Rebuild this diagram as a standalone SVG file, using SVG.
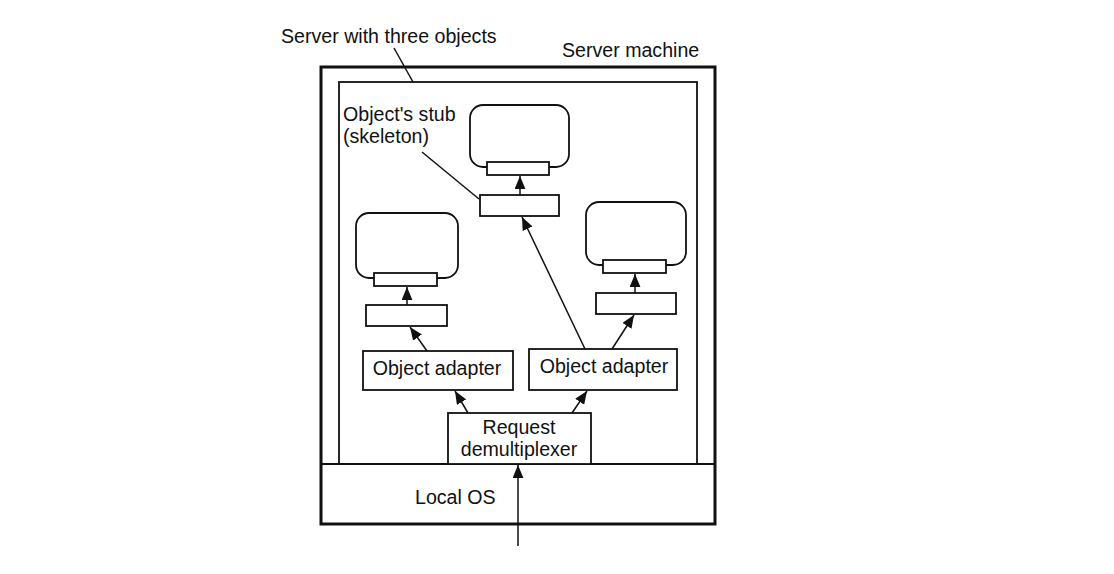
<svg xmlns="http://www.w3.org/2000/svg" width="1114" height="574" viewBox="0 0 1114 574">
<style>
.t{font-family:"Liberation Sans",Arial,sans-serif;font-size:19.6px;fill:#111}
.b{fill:#fff;stroke:#111;stroke-width:1.8}
.l{stroke:#111;stroke-width:1.5;fill:none}
.a{stroke:#111;stroke-width:1.5;fill:none;marker-end:url(#ah)}
</style>
<defs>
<marker id="ah" viewBox="0 0 12 10" refX="12" refY="5" markerWidth="13" markerHeight="11" markerUnits="userSpaceOnUse" orient="auto">
<path d="M0,0 L12,5 L0,10 z" fill="#111"/>
</marker>
</defs>
<rect width="1114" height="574" fill="#fff"/>
<g id="server-machine">
<rect x="321" y="67" width="394" height="457" fill="none" stroke="#111" stroke-width="3"/>
<line x1="321" y1="464" x2="715" y2="464" stroke="#111" stroke-width="2"/>
<text class="t" x="562" y="57">Server machine</text>
<text class="t" x="415" y="504">Local OS</text>
</g>
<g id="server-objects">
<rect x="339" y="82" width="358" height="382" fill="none" stroke="#111" stroke-width="1.8"/>
<text class="t" x="281" y="43">Server with three objects</text>
</g>
<g id="object-top">
<rect class="b" x="470" y="105" width="99" height="62" rx="13"/>
<rect class="b" x="487" y="162" width="62" height="13"/>
<rect class="b" x="480" y="195" width="79" height="21"/>
</g>
<g id="object-left">
<rect class="b" x="356" y="213" width="102" height="65" rx="13"/>
<rect class="b" x="374" y="273" width="63" height="13"/>
<rect class="b" x="366" y="305" width="81" height="21"/>
</g>
<g id="object-right">
<rect class="b" x="586" y="202" width="100" height="63" rx="13"/>
<rect class="b" x="603" y="260" width="63" height="13"/>
<rect class="b" x="596" y="293" width="80" height="21"/>
</g>
<g id="adapter-left">
<rect class="b" x="363" y="351" width="150" height="39"/>
<text class="t" x="437" y="375" text-anchor="middle">Object adapter</text>
</g>
<g id="adapter-right">
<rect class="b" x="529" y="349" width="148" height="41"/>
<text class="t" x="604" y="373" text-anchor="middle">Object adapter</text>
</g>
<g id="demux">
<rect class="b" x="448" y="413" width="143" height="51"/>
<text class="t" x="519" y="434" text-anchor="middle">Request</text>
<text class="t" x="519" y="456" text-anchor="middle">demultiplexer</text>
</g>
<g id="stub-label">
<text class="t" x="343" y="121">Object's stub</text>
<text class="t" x="343" y="143">(skeleton)</text>
</g>
<g id="connectors">
<line class="a" x1="518" y1="546" x2="518" y2="465"/>
<line class="a" x1="468" y1="413" x2="455" y2="391"/>
<line class="a" x1="572" y1="413" x2="587" y2="391"/>
<line class="a" x1="427" y1="351" x2="410" y2="327"/>
<line class="a" x1="407" y1="305" x2="407" y2="287"/>
<line class="a" x1="612" y1="349" x2="634" y2="315"/>
<line class="a" x1="635" y1="293" x2="635" y2="274"/>
<line class="a" x1="585" y1="349" x2="522" y2="217"/>
<line class="a" x1="520" y1="195" x2="520" y2="176"/>
<line class="l" x1="394" y1="48" x2="413" y2="82"/>
<line class="l" x1="422" y1="152" x2="479" y2="199"/>
</g>
</svg>
